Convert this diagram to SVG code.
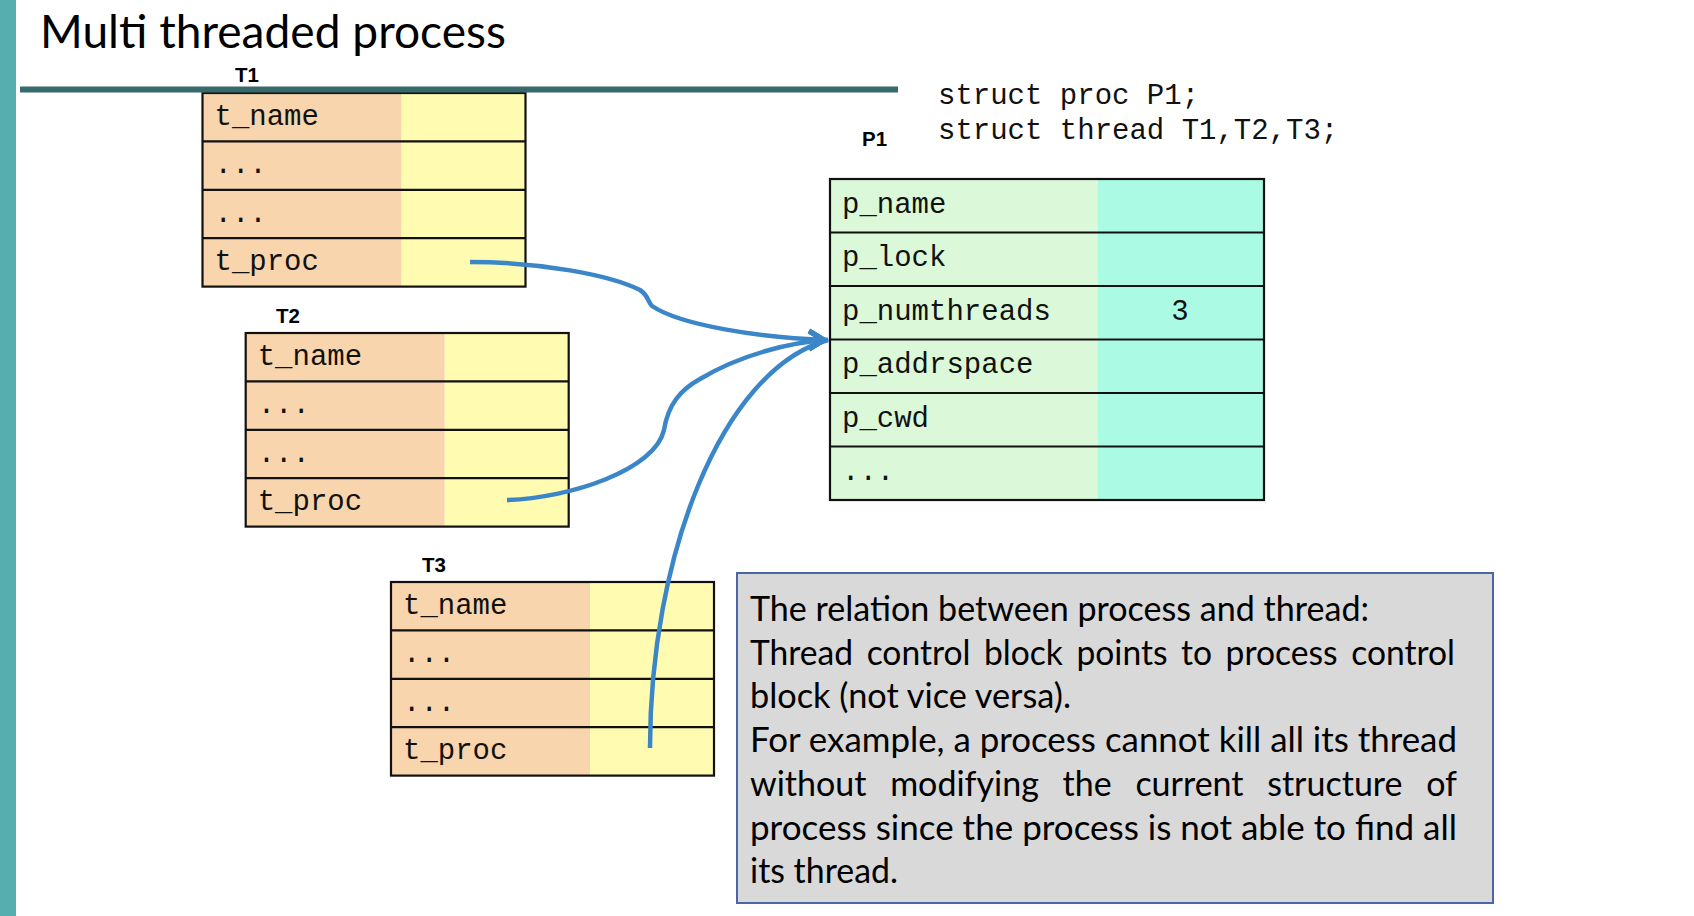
<svg xmlns="http://www.w3.org/2000/svg" width="1694" height="916" viewBox="0 0 1694 916">
<style>
.mono{font-family:"Liberation Mono","Courier New",monospace;font-size:29px;fill:#111}
.lbl{font-family:"Liberation Sans",Arial,sans-serif;font-weight:bold;font-size:20.5px;fill:#000}
.grid{fill:none;stroke:#111;stroke-width:2.2}
.tl{fill:#f8d5ac}
.tr{fill:#fffbb1}
.pl{fill:#dbf9d8}
.pr{fill:#abfae3}
.conn{fill:none;stroke:#3a86c8;stroke-width:4.5}
.note{font-family:Lato,"Open Sans",sans-serif;font-size:34px;fill:#000}
.title{font-family:Lato,"Open Sans",sans-serif;font-size:47px;fill:#000}
</style>
<defs>
<marker id="ah" markerUnits="userSpaceOnUse" orient="0" markerWidth="30" markerHeight="30" refX="0" refY="0" viewBox="-20 -15 30 30" overflow="visible">
<path d="M-19,-9 L-4,0 L-19,9" fill="none" stroke="#3a86c8" stroke-width="5"/>
</marker>
</defs>
<rect x="0" y="0" width="1694" height="916" fill="#fff"/>
<rect x="0" y="0" width="16" height="916" fill="#56aeae"/>
<text class="title" x="40" y="48" textLength="466" lengthAdjust="spacingAndGlyphs">Multi threaded process</text>

<g id="T1" transform="translate(202.5,93)">
<text class="lbl" x="32.5" y="-11">T1</text>
<rect class="tl" x="0" y="0" width="199" height="193.6"/>
<rect class="tr" x="199" y="0" width="124" height="193.6"/>
<path class="grid" d="M0,48.4H323M0,96.8H323M0,145.2H323"/>
<rect class="grid" x="0" y="0" width="323" height="193.6"/>
<text class="mono" x="12" y="32">t_name</text>
<text class="mono" x="12" y="80.4">...</text>
<text class="mono" x="12" y="128.8">...</text>
<text class="mono" x="12" y="177.2">t_proc</text>
</g>

<rect x="20" y="86.5" width="878" height="6" fill="#386a6c"/>

<g id="T2" transform="translate(245.7,333)">
<text class="lbl" x="30.3" y="-10">T2</text>
<rect class="tl" x="0" y="0" width="199" height="193.6"/>
<rect class="tr" x="199" y="0" width="124" height="193.6"/>
<path class="grid" d="M0,48.4H323M0,96.8H323M0,145.2H323"/>
<rect class="grid" x="0" y="0" width="323" height="193.6"/>
<text class="mono" x="12" y="32">t_name</text>
<text class="mono" x="12" y="80.4">...</text>
<text class="mono" x="12" y="128.8">...</text>
<text class="mono" x="12" y="177.2">t_proc</text>
</g>

<g id="T3" transform="translate(391,582)">
<text class="lbl" x="31" y="-10">T3</text>
<rect class="tl" x="0" y="0" width="199" height="193.6"/>
<rect class="tr" x="199" y="0" width="124" height="193.6"/>
<path class="grid" d="M0,48.4H323M0,96.8H323M0,145.2H323"/>
<rect class="grid" x="0" y="0" width="323" height="193.6"/>
<text class="mono" x="12" y="32">t_name</text>
<text class="mono" x="12" y="80.4">...</text>
<text class="mono" x="12" y="128.8">...</text>
<text class="mono" x="12" y="177.2">t_proc</text>
</g>

<g id="decl">
<text class="mono" x="938" y="104">struct proc P1;</text>
<text class="mono" x="938" y="139">struct thread T1,T2,T3;</text>
</g>

<g id="P1" transform="translate(830,179)">
<text class="lbl" x="32" y="-33">P1</text>
<rect class="pl" x="0" y="0" width="267.5" height="321"/>
<rect class="pr" x="267.5" y="0" width="166.5" height="321"/>
<path class="grid" d="M0,53.5H434M0,107H434M0,160.5H434M0,214H434M0,267.5H434"/>
<rect class="grid" x="0" y="0" width="434" height="321"/>
<text class="mono" x="12" y="33.5">p_name</text>
<text class="mono" x="12" y="87">p_lock</text>
<text class="mono" x="12" y="140.5">p_numthreads</text>
<text class="mono" x="350" y="140.5" text-anchor="middle">3</text>
<text class="mono" x="12" y="194">p_addrspace</text>
<text class="mono" x="12" y="247.5">p_cwd</text>
<text class="mono" x="12" y="301">...</text>
</g>

<g id="connectors">
<path class="conn" marker-end="url(#ah)" d="M470,262 C540,262 610,275 640,290 C648,295 648,302 652,306 C680,325 760,338 828,340"/>
<path class="conn" marker-end="url(#ah)" d="M507,500 C570,498 655,470 664,430 C668,405 680,390 700,379 C740,355 790,342 828,340"/>
<path class="conn" marker-end="url(#ah)" d="M650,748 C650,560 720,370 828,340"/>
</g>

<g id="note">
<rect x="737" y="573" width="756" height="330" fill="#d9d9d9" stroke="#4a66a6" stroke-width="2"/>
<text class="note" x="750" y="621" textLength="619" lengthAdjust="spacingAndGlyphs">The relation between process and thread:</text>
<text class="note" x="750" y="664.5" textLength="705" lengthAdjust="spacingAndGlyphs" word-spacing="5">Thread control block points to process control</text>
<text class="note" x="750" y="708" textLength="321" lengthAdjust="spacingAndGlyphs">block (not vice versa).</text>
<text class="note" x="750" y="752" textLength="707" lengthAdjust="spacingAndGlyphs">For example, a process cannot kill all its thread</text>
<text class="note" x="750" y="796" textLength="707" lengthAdjust="spacingAndGlyphs" word-spacing="15">without modifying the current structure of</text>
<text class="note" x="750" y="839.5" textLength="707" lengthAdjust="spacingAndGlyphs">process since the process is not able to find all</text>
<text class="note" x="750" y="883" textLength="148" lengthAdjust="spacingAndGlyphs">its thread.</text>
</g>
</svg>
